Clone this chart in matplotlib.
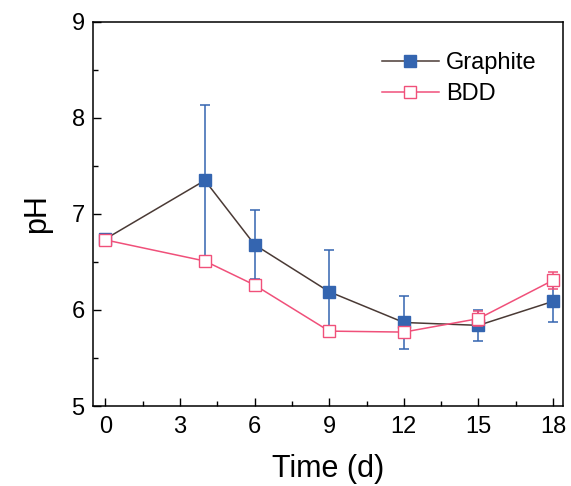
import matplotlib
matplotlib.use("Agg")
import matplotlib.pyplot as plt
from matplotlib.ticker import MultipleLocator
from matplotlib.lines import Line2D

plt.rcParams['font.family'] = ['Liberation Sans', 'DejaVu Sans']

time = [0, 4, 6, 9, 12, 15, 18]
graphite = [6.74, 7.35, 6.68, 6.19, 5.87, 5.84, 6.09]
graphite_err = [0.03, 0.79, 0.36, 0.44, 0.28, 0.16, 0.22]
bdd = [6.73, 6.51, 6.26, 5.78, 5.77, 5.91, 6.31]
bdd_err = [0.03, 0.03, 0.04, 0.01, 0.02, 0.08, 0.09]

W, H = 571, 486
fig = plt.figure(figsize=(W/100, H/100), dpi=100)
ax = fig.add_axes([93/W, 80/H, (563-93)/W, (406-22)/H])

blue = '#3465b0'
brown = '#4a3a35'
pink = '#f0507a'
ax.errorbar(time, graphite, yerr=graphite_err, color=brown, lw=1.1,
            marker='s', ms=8.5, mfc=blue, mec=blue, ecolor=blue, elinewidth=1.1,
            capsize=3.5, capthick=1.1, zorder=3)
ax.errorbar(time, bdd, yerr=bdd_err, color=pink, lw=1.1,
            marker='s', ms=8.5, mfc='white', mec=pink, ecolor=pink, elinewidth=1.1,
            capsize=3.5, capthick=1.1, zorder=4)

ax.set_xlim(-0.5, 18.4)
ax.set_ylim(5, 9)
ax.xaxis.set_major_locator(MultipleLocator(3))
ax.xaxis.set_minor_locator(MultipleLocator(1.5))
ax.yaxis.set_major_locator(MultipleLocator(1))
ax.yaxis.set_minor_locator(MultipleLocator(0.5))
ax.tick_params(which='both', direction='in', top=False, right=False, labelsize=17)
ax.tick_params(axis='x', which='major', length=6, width=1, pad=7)
ax.tick_params(axis='y', which='major', length=6, width=1, pad=6)
ax.tick_params(which='minor', length=3.5, width=1)
for s in ax.spines.values():
    s.set_linewidth(1.1)
ax.set_xlabel('Time (d)', fontsize=22, labelpad=12)
ax.set_ylabel('pH', fontsize=22, labelpad=14)

handles = [
    Line2D([], [], color=brown, lw=1.1, marker='s', ms=8, mfc=blue, mec=blue),
    Line2D([], [], color=pink, lw=1.1, marker='s', ms=8, mfc='white', mec=pink),
]
ax.legend(handles, ['Graphite', 'BDD'], loc='upper left', fontsize=17,
          frameon=False, handlelength=2.4, bbox_to_anchor=(382/W, 1 - 52/H),
          bbox_transform=fig.transFigure, borderpad=0, borderaxespad=0,
          handletextpad=0.3, labelspacing=0.4)

fig.savefig('out.png', dpi=100)
